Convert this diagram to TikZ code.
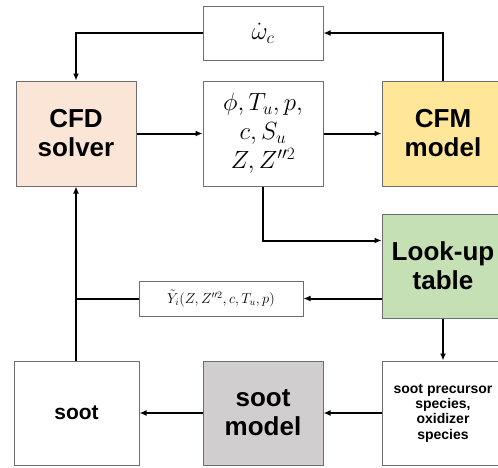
\documentclass[tikz,border=0pt]{standalone}
\usepackage{fontspec}
\setmainfont{Liberation Sans}
\usetikzlibrary{arrows.meta,calc}
\definecolor{bordc}{HTML}{6E6E6E}
\definecolor{cfdc}{HTML}{FBE5D6}
\definecolor{cfmc}{HTML}{FFE699}
\definecolor{lutc}{HTML}{C5E0B4}
\definecolor{smc}{HTML}{D0CECE}
\tikzset{
  box/.style={draw=bordc, line width=1pt, rectangle, inner sep=0pt, align=center, fill=white},
  bigt/.style={font=\fontsize{26}{29}\selectfont\bfseries},
  arr/.style={line width=2pt, -{Latex[length=7pt,width=6pt]}},
  ln/.style={line width=2pt}
}
\begin{document}
\begin{tikzpicture}[x=1pt,y=-1pt]
\useasboundingbox (0,0) rectangle (498,467);
\node[box, minimum width=120pt, minimum height=54pt, font=\fontsize{26}{28}\selectfont] (omega) at (263,33) {$\dot{\omega}_c$};
\node[box, bigt, fill=cfdc, minimum width=120pt, minimum height=105pt] (cfd) at (76,133.5) {CFD\\solver};
\node[box, minimum width=120pt, minimum height=105pt, font=\fontsize{25}{29}\selectfont] (mid) at (263,133.5) {$\phi, T_u, p,$\\$c, S_u$\\$Z, Z''^2$};
\node[box, bigt, fill=cfmc, minimum width=122pt, minimum height=105pt] (cfm) at (443,133.5) {CFM\\model};
\node[box, bigt, fill=lutc, minimum width=122pt, minimum height=104pt] (lut) at (443,266) {Look-up\\table};
\node[box, minimum width=164pt, minimum height=35pt, font=\fontsize{14}{16}\selectfont] (ybox) at (221,298.5) {$\tilde{Y}_i(Z, Z''^2, c, T_u, p)$};
\node[box, minimum width=125pt, minimum height=104pt, font=\fontsize{21}{24}\selectfont\bfseries] (soot) at (76.5,413) {soot};
\node[box, bigt, fill=smc, minimum width=120pt, minimum height=104pt] (sm) at (263,413) {soot\\model};
\node[box, minimum width=122pt, minimum height=104pt, font=\fontsize{14}{15.3}\selectfont\bfseries] (prec) at (443,413) {soot precursor\\species,\\oxidizer\\species};
% connectors
\draw[arr] (omega.west) -| (cfd.north);
\draw[arr] (cfm.north) |- (omega.east);
\draw[arr] (cfd.east) -- (mid.west);
\draw[arr] (mid.east) -- (cfm.west);
\coordinate (lutin) at ([yshift=-27pt]lut.north west);
\draw[arr] (mid.south) |- (lutin);
\draw[arr] (lut.west |- ybox.east) -- (ybox.east);
\coordinate (junc) at (cfd.south |- ybox.west);
\draw[ln] (ybox.west) -- (junc);
\draw[arr] (cfd.south |- soot.north) -- (cfd.south);
\draw[arr] (lut.south) -- (prec.north);
\draw[arr] (prec.west) -- (sm.east);
\draw[arr] (sm.west) -- (soot.east);
\end{tikzpicture}
\end{document}
